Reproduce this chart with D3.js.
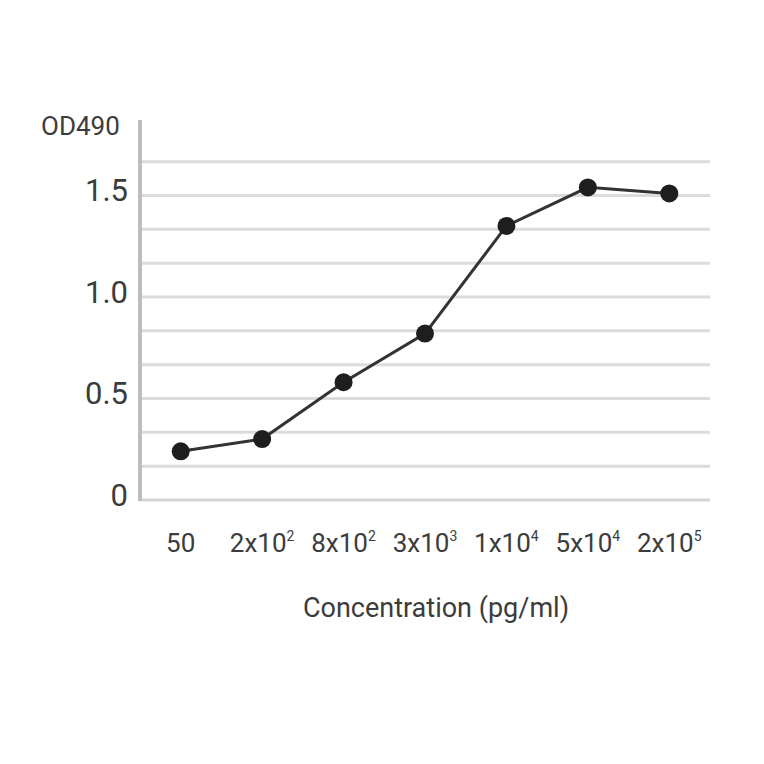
<!DOCTYPE html>
<html>
<head>
<meta charset="utf-8">
<script src="https://cdn.jsdelivr.net/npm/d3@7"></script>
<style>
  body { margin: 0; background: #fff; }
  text { font-family: Roboto, "Open Sans", sans-serif; fill: #3c3c3c; }
</style>
</head>
<body>
<div id="chart"></div>
<script>
// concentration labels, split into mantissa and exponent
const conc_base = ["50", "2x10", "8x10", "3x10", "1x10", "5x10", "2x10"];
const conc_exp = ["", "2", "2", "3", "4", "4", "5"];
const od_values = [0.24, 0.30, 0.58, 0.82, 1.35, 1.54, 1.51];
const y_ticks = [0, 0.5, 1.0, 1.5];
const y_grid = [1/6, 2/6, 3/6, 4/6, 5/6, 1, 7/6, 8/6, 9/6, 10/6];

const W = 764, H = 764;
const margin = {left: 140, right: 54, top: 120, bottom: 264};

const svg = d3.select("#chart").append("svg")
  .attr("width", W).attr("height", H);

const x = d3.scaleBand()
  .domain(d3.range(conc_base.length))
  .range([margin.left, W - margin.right]);

const y = d3.scaleLinear()
  .domain([0, 1.8719])
  .range([H - margin.bottom, margin.top]);

// gridlines
svg.append("g").selectAll("line")
  .data(y_grid).enter().append("line")
  .attr("x1", margin.left).attr("x2", W - margin.right)
  .attr("y1", d => y(d)).attr("y2", d => y(d))
  .attr("stroke", "#dcdcdc").attr("stroke-width", 3);

// x baseline
svg.append("line")
  .attr("x1", margin.left).attr("x2", W - margin.right)
  .attr("y1", y(0)).attr("y2", y(0))
  .attr("stroke", "#d4d4d4").attr("stroke-width", 3);

// y axis line
svg.append("line")
  .attr("x1", margin.left).attr("x2", margin.left)
  .attr("y1", y(0) + 1).attr("y2", margin.top)
  .attr("stroke", "#bdbdbd").attr("stroke-width", 4);

// y tick labels
svg.append("g").selectAll("text")
  .data(y_ticks).enter().append("text")
  .attr("x", 128)
  .attr("y", d => y(d) + 6)
  .attr("text-anchor", "end")
  .attr("font-size", 31)
  .text(d => d === 0 ? "0" : d.toFixed(1));

svg.append("text")
  .attr("x", 41).attr("y", 135)
  .attr("font-size", 26)
  .text("OD490");

// x tick labels with superscripts
const xl = svg.append("g").selectAll("text")
  .data(conc_base).enter().append("text")
  .attr("x", (d, i) => x(i) + x.bandwidth() / 2)
  .attr("y", 552)
  .attr("text-anchor", "middle")
  .attr("font-size", 26);
xl.append("tspan").text(d => d);
xl.append("tspan")
  .attr("font-size", 14)
  .attr("dy", -11)
  .text((d, i) => conc_exp[i]);

svg.append("text")
  .attr("x", 436).attr("y", 617)
  .attr("text-anchor", "middle")
  .attr("font-size", 27)
  .text("Concentration (pg/ml)");

// line and markers
const line = d3.line()
  .x((d, i) => x(i) + x.bandwidth() / 2)
  .y(d => y(d));

svg.append("path")
  .datum(od_values)
  .attr("d", line)
  .attr("fill", "none")
  .attr("stroke", "#333")
  .attr("stroke-width", 3);

svg.append("g").selectAll("circle")
  .data(od_values).enter().append("circle")
  .attr("cx", (d, i) => x(i) + x.bandwidth() / 2)
  .attr("cy", d => y(d))
  .attr("r", 9)
  .attr("fill", "#1e1e1e");
</script>
</body>
</html>
